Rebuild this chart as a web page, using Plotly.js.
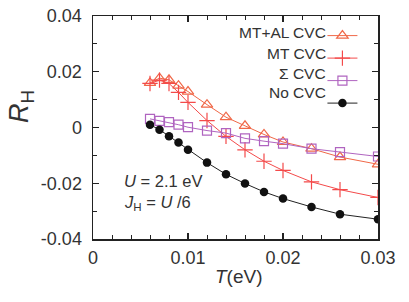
<!DOCTYPE html>
<html>
<head>
<meta charset="utf-8">
<script src="https://cdn.plot.ly/plotly-3.0.1.min.js"></script>
<style>html,body{margin:0;padding:0;background:#fff;}#chart{width:409px;height:302px;}</style>
</head>
<body>
<div id="chart"></div>
<script>
// Temperature (eV)
var T = [0.006, 0.007, 0.008, 0.009, 0.010, 0.012, 0.014, 0.016, 0.018, 0.020, 0.023, 0.026, 0.030];
// Hall coefficient R_H for each vertex-correction level
var mtal = [0.0160, 0.0177, 0.0171, 0.0150, 0.0129, 0.0082, 0.0037, 0.0006, -0.0025, -0.0052, -0.0076, -0.0106, -0.0132];
var mt   = [0.0158, 0.0170, 0.0158, 0.0126, 0.0090, 0.0025, -0.0032, -0.0080, -0.0121, -0.0154, -0.0195, -0.0223, -0.0251];
var sig  = [0.0031, 0.0024, 0.0019, 0.0010, 0.0001, -0.0011, -0.0020, -0.0039, -0.0049, -0.0058, -0.0076, -0.0088, -0.0104];
var nocvc= [0.0010, -0.0008, -0.0031, -0.0054, -0.0080, -0.0126, -0.0168, -0.0201, -0.0231, -0.0255, -0.0285, -0.0311, -0.0329];
var seriesNames = ["MT+AL CVC", "MT CVC", "\u03A3 CVC", "No CVC"];
var xTicks = [0, 0.01, 0.02, 0.03];
var xTickText = ["0", "0.01", "0.02", "0.03"];
var yTicks = [-0.04, -0.02, 0, 0.02, 0.04];
var yTickText = ["-0.04", "-0.02", "0", "0.02", "0.04"];

var cTri = '#f06848', cPlus = '#f44a4a', cSq = '#b064c0', cDot = '#111111';
var FF = 'Liberation Sans, Arial, sans-serif';

var traces = [
  {x: T, y: mtal, mode: 'lines+markers', name: ' ', line: {color: cTri, width: 1},
   marker: {symbol: 'triangle-up-open', size: 10, color: cTri, line: {width: 1.2, color: cTri}}},
  {x: T, y: mt, mode: 'lines+markers', name: ' ', line: {color: cPlus, width: 1},
   marker: {symbol: 'cross-thin-open', size: 11, color: cPlus, line: {width: 1.2, color: cPlus}}},
  {x: T, y: sig, mode: 'lines+markers', name: ' ', line: {color: cSq, width: 1},
   marker: {symbol: 'square-open', size: 9, color: cSq, line: {width: 1.2, color: cSq}}},
  {x: T, y: nocvc, mode: 'lines+markers', name: ' ', line: {color: '#222', width: 1},
   marker: {symbol: 'circle', size: 8.5, color: cDot}}
];

var txt = '#333333';
var legY = [0.924, 0.834, 0.744, 0.655];
var annotations = seriesNames.map(function(n, i){
  return {xref: 'paper', yref: 'paper', x: 0.825, y: legY[i], xanchor: 'right', yanchor: 'middle',
          text: n, showarrow: false, font: {family: FF, size: 15.5, color: txt}};
});
annotations.push({xref: 'paper', yref: 'paper', x: -0.25, y: 0.595, textangle: -90,
  text: '<i>R</i><sub>H</sub>', showarrow: false, xanchor: 'center', yanchor: 'middle',
  font: {family: FF, size: 27, color: txt}});
annotations.push({xref: 'paper', yref: 'paper', x: 0.512, y: -0.166, xanchor: 'center', yanchor: 'middle',
  text: '<i>T</i>(eV)', showarrow: false, font: {family: FF, size: 19, color: txt}});
annotations.push({xref: 'paper', yref: 'paper', x: 0.1, y: 0.258, xanchor: 'left', yanchor: 'middle',
  text: '<i>U</i> = 2.1 eV', showarrow: false, font: {family: FF, size: 16.5, color: txt}});
annotations.push({xref: 'paper', yref: 'paper', x: 0.1, y: 0.162, xanchor: 'left', yanchor: 'middle',
  text: '<i>J</i><sub>H</sub> = <i>U</i> /6', showarrow: false, font: {family: FF, size: 16.5, color: txt}});

var axisCommon = {
  showgrid: false, zeroline: false, showline: true, linecolor: '#222', linewidth: 1.5,
  mirror: 'allticks', ticks: 'inside', ticklen: 6, tickwidth: 1.2, tickcolor: '#222',
  tickfont: {family: FF, size: 18, color: txt}
};

var layout = {
  width: 409, height: 302,
  margin: {l: 93, r: 31, t: 16, b: 63},
  paper_bgcolor: '#fff', plot_bgcolor: '#fff',
  showlegend: true,
  legend: {x: 0.805, y: 0.985, xanchor: 'left', yanchor: 'top', bgcolor: 'rgba(0,0,0,0)',
           font: {size: 15}, tracegroupgap: 0, itemwidth: 30},
  xaxis: Object.assign({}, axisCommon, {
    range: [0, 0.03], tickvals: xTicks, ticktext: xTickText, ticklabelstandoff: 2,
    minor: {dtick: 0.002, ticks: 'inside', ticklen: 4, tickwidth: 1, tickcolor: '#222'}
  }),
  yaxis: Object.assign({}, axisCommon, {
    range: [-0.04, 0.04], tickvals: yTicks, ticktext: yTickText, ticklabelstandoff: 6,
    minor: {dtick: 0.01, ticks: 'inside', ticklen: 4, tickwidth: 1, tickcolor: '#222'}
  }),
  annotations: annotations
};

Plotly.newPlot('chart', traces, layout, {displayModeBar: false, staticPlot: true});
</script>
</body>
</html>
